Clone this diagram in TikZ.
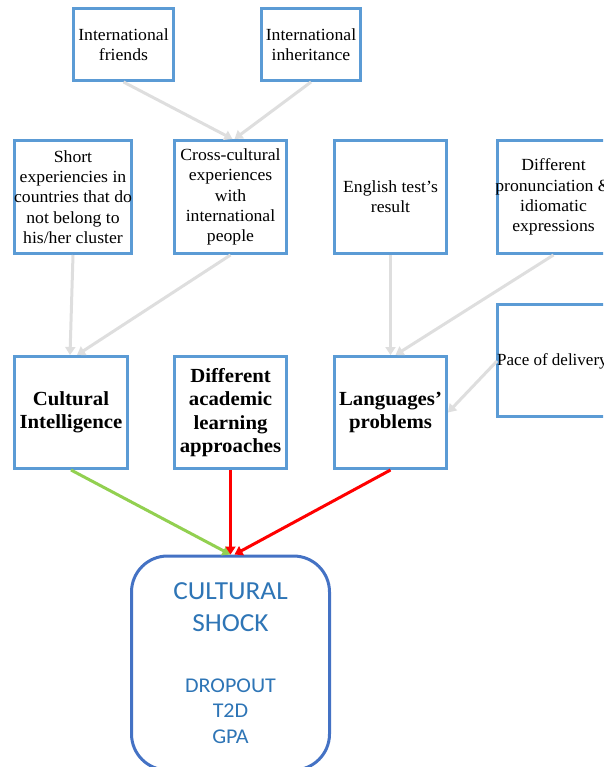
\documentclass[tikz,border=0pt]{standalone}
\usepackage{fontspec}
\setmainfont[FakeStretch=1.04]{Liberation Serif}
\newfontfamily\plainserif{Liberation Serif}
\newfontfamily\shockfont[FakeStretch=1.05]{Carlito}
\usetikzlibrary{arrows.meta}
\definecolor{boxblue}{RGB}{91,155,213}
\definecolor{roundblue}{RGB}{68,114,196}
\definecolor{shocktext}{RGB}{46,117,182}
\definecolor{linkgray}{RGB}{222,222,222}
\definecolor{linkgreen}{RGB}{146,208,80}
\definecolor{linkred}{RGB}{255,0,0}
\begin{document}
\begin{tikzpicture}[x=1pt,y=-1pt,
  factor/.style={draw=boxblue, line width=3pt, fill=white, rectangle,
    inner xsep=-4pt, inner ysep=0pt, align=center,
    font=\fontsize{17}{20.2}\selectfont},
  mainfactor/.style={factor, font=\fontsize{20}{23.3}\selectfont\bfseries},
  link/.style={draw=linkgray, line width=3pt, -{Triangle[width=10pt,length=8pt]}},
  greenlink/.style={draw=linkgreen, line width=3pt, -{Triangle[width=10pt,length=8pt]}},
  redlink/.style={draw=linkred, line width=3pt, -{Triangle[width=10pt,length=8pt]}},
  outcome/.style={draw=roundblue, line width=3pt, rounded corners=36pt,
    fill=white, inner sep=0pt}]
\useasboundingbox (0,0) rectangle (603,767);
\clip (0,0) rectangle (603,767);

% top row
\node[factor, minimum width=100pt, minimum height=72pt] (f1) at (123.5,44.5)
  {International\\friends};
\node[factor, minimum width=99pt, minimum height=72pt] (f2) at (311,44.5)
  {International\\inheritance};

% second row
\node[factor, minimum width=117pt, minimum height=113pt] (s1) at (73,197)
  {Short\\experiencies in\\countries that do\\not belong to\\his/her cluster};
\node[factor, minimum width=112pt, minimum height=113pt] (s2) at (230.5,197)
  {Cross-cultural\\experiences\\with\\international\\people};
\node[factor, minimum width=112pt, minimum height=113pt] (s3) at (390.5,197)
  {English test's\\result};
\node[factor, minimum width=112pt, minimum height=113pt] (s4) at (553.5,197)
  {Different\\pronunciation \&\\idiomatic\\expressions};

% third row
\node[mainfactor, minimum width=113pt, minimum height=112pt] (t1) at (71,412.5)
  {Cultural\\Intelligence};
\node[mainfactor, minimum width=112pt, minimum height=112pt] (t2) at (230.5,412.5)
  {Different\\academic\\learning\\approaches};
\node[mainfactor, minimum width=112pt, minimum height=112pt] (t3) at (390.5,412.5)
  {Languages'\\problems};
\node[factor, minimum width=112pt, minimum height=112pt] (pace) at (553.5,360.5) {};
\node[anchor=west, inner sep=0pt, font=\plainserif\fontsize{17}{20}\selectfont]
  (pacetxt) at (497,361) {Pace of delivery};

% outcome
\node[outcome, minimum width=198pt, minimum height=214pt] (shock) at (230.5,663) {};
\node[text=shocktext, align=center, inner sep=0pt,
  font=\shockfont\fontsize{26}{32}\selectfont] (shocktitle) at (230.5,607)
  {CULTURAL\\SHOCK};
\node[text=shocktext, align=center, inner sep=0pt,
  font=\shockfont\fontsize{21}{25.5}\selectfont] (shockitems) at (230.5,711)
  {DROPOUT\\T2D\\GPA};

% influences
\draw[link] (f1.south) -- ([xshift=2pt]s2.north);
\draw[link] (f2.south) -- ([xshift=4pt]s2.north);
\draw[link] (s1.south) -- ([xshift=-1pt]t1.north);
\draw[link] (s2.south) -- ([xshift=6pt]t1.north);
\draw[link] (s3.south) -- (t3.north);
\draw[link] (s4.south) -- ([xshift=5pt]t3.north);
\draw[link] (pacetxt.west) -- (t3.east);
\draw[greenlink] (t1.south) -- (shock.north);
\draw[redlink] (t2.south) -- (shock.north);
\draw[redlink] (t3.south) -- ([xshift=4pt]shock.north);
\end{tikzpicture}
\end{document}
